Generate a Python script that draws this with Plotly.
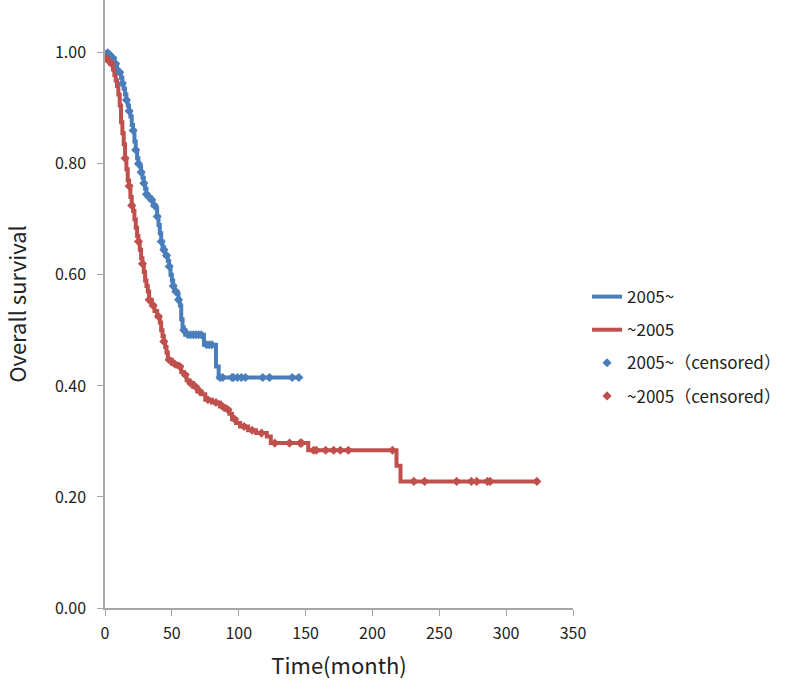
import plotly.graph_objects as go

# Kaplan-Meier step curves: time (month) and survival after each step
new_t = [0, 3, 5, 7, 9, 10, 12, 13, 14, 15, 16, 17, 18, 19, 20, 21, 22, 23, 24, 25,
         26, 27, 28, 29, 30, 31, 32, 34, 36, 38, 39, 40, 41, 42, 43, 44, 45, 47, 48, 49,
         50, 51, 52, 54, 55, 56, 57, 58, 59, 60, 74, 83, 85, 145]
new_s = [1.00, 0.995, 0.99, 0.98, 0.97, 0.965, 0.955, 0.945, 0.935, 0.925, 0.915, 0.905,
         0.895, 0.885, 0.87, 0.86, 0.84, 0.825, 0.81, 0.80, 0.795, 0.785, 0.775, 0.765,
         0.755, 0.745, 0.74, 0.735, 0.725, 0.72, 0.705, 0.69, 0.675, 0.66, 0.65, 0.645,
         0.635, 0.625, 0.615, 0.60, 0.59, 0.58, 0.57, 0.565, 0.555, 0.545, 0.52, 0.505,
         0.50, 0.492, 0.474, 0.435, 0.415, 0.415]

old_t = [0, 2, 4, 6, 7, 8, 9, 10, 11, 12, 13, 14, 15, 16, 17, 18, 19, 20, 21, 22, 23,
         24, 25, 26, 27, 28, 29, 30, 31, 32, 33, 35, 37, 39, 41, 42, 43, 44, 45, 46, 47,
         50, 54, 57, 59, 61, 63, 66, 69, 72, 75, 80, 86, 90, 93, 95, 98, 101, 107, 113,
         121, 124, 152, 218, 221, 323]
old_s = [0.99, 0.985, 0.98, 0.97, 0.96, 0.95, 0.94, 0.925, 0.905, 0.875, 0.855, 0.835,
         0.81, 0.79, 0.77, 0.76, 0.74, 0.725, 0.715, 0.70, 0.685, 0.67, 0.66, 0.645,
         0.63, 0.62, 0.605, 0.59, 0.58, 0.57, 0.555, 0.545, 0.535, 0.525, 0.514, 0.50,
         0.49, 0.48, 0.47, 0.46, 0.447, 0.44, 0.435, 0.425, 0.42, 0.41, 0.405, 0.398,
         0.39, 0.385, 0.375, 0.37, 0.363, 0.357, 0.35, 0.34, 0.333, 0.327, 0.32, 0.315,
         0.309, 0.297, 0.284, 0.256, 0.228, 0.228]

# censored times
new_cens = [2, 4, 6, 8, 11, 13, 16, 18, 21, 23, 25, 27, 29, 31, 33, 35, 37, 39, 42, 44,
            46, 48, 51, 53, 55, 59, 62, 64, 66, 68, 70, 72, 76, 78, 80, 86, 88, 95, 96,
            99, 102, 105, 118, 123, 140, 145]
old_cens = [1, 3, 5, 15, 18, 20, 25, 28, 33, 36, 40, 44, 48, 52, 56, 60, 64, 68, 71, 77,
            83, 88, 92, 97, 104, 110, 117, 127, 138, 146, 147, 156, 158, 165, 171, 176,
            182, 215, 231, 239, 263, 274, 278, 286, 288, 323]

BLUE = '#4a7ebb'
RED = '#c0504d'


def surv_at(times, surv, t):
    val = surv[0]
    for ti, si in zip(times, surv):
        if ti <= t:
            val = si
    return val


fig = go.Figure()
fig.add_trace(go.Scatter(x=new_t, y=new_s, mode='lines', name='2005~',
                         line=dict(color=BLUE, width=4, shape='hv'), legendgroup='a'))
fig.add_trace(go.Scatter(x=old_t, y=old_s, mode='lines', name='~2005',
                         line=dict(color=RED, width=4, shape='hv'), legendgroup='b'))
fig.add_trace(go.Scatter(x=new_cens, y=[surv_at(new_t, new_s, t) for t in new_cens],
                         mode='markers', name='2005~（censored）', legendgroup='c',
                         marker=dict(symbol='diamond', size=7, color=BLUE)))
fig.add_trace(go.Scatter(x=old_cens, y=[surv_at(old_t, old_s, t) for t in old_cens],
                         mode='markers', name='~2005（censored）', legendgroup='d',
                         marker=dict(symbol='diamond', size=7, color=RED)))

axis_style = dict(showline=True, linecolor='#a6a6a6', linewidth=1.5, showgrid=False,
                  zeroline=False, ticks='outside', tickcolor='#a6a6a6', ticklen=6,
                  automargin=False, tickfont=dict(size=16, color='#222'))

fig.update_layout(
    width=787, height=680,
    margin=dict(l=105, r=214, t=0, b=72),
    plot_bgcolor='white', paper_bgcolor='white',
    font=dict(family='Noto Sans CJK JP, Noto Sans, sans-serif', color='#222'),
    xaxis=dict(range=[0, 350], dtick=50, tick0=0, ticklabelstandoff=4,
               title=dict(text='Time(month)', font=dict(size=22), standoff=18),
               **axis_style),
    yaxis=dict(range=[0, 1.095], dtick=0.2, tick0=0, tickformat='.2f',
               ticklabelstandoff=8,
               title=dict(text='Overall survival', font=dict(size=22), standoff=46),
               **axis_style),
    legend=dict(x=1.03, y=0.43, xanchor='left', yanchor='middle',
                font=dict(size=17), tracegroupgap=8, bgcolor='rgba(0,0,0,0)'),
)

fig.write_html("out.html", config={'displayModeBar': False},
               post_script="document.body.style.margin='0';")
